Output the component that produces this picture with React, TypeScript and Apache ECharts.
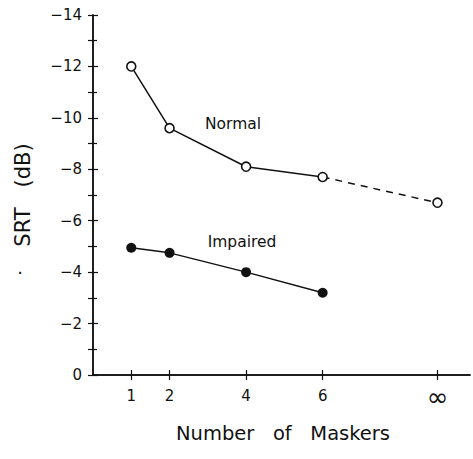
import React, { useEffect, useRef } from "react";
import * as echarts from "echarts";

const maskers = [1, 2, 4, 6];
const infinityPos = 9;
const xTickValues = [1, 2, 4, 6, 9];
const xTickLabels = ["1", "2", "4", "6", "∞"];
const normalSRT = [-12.0, -9.6, -8.1, -7.7];
const normalInfSRT = -6.7;
const impairedSRT = [-4.95, -4.75, -4.0, -3.2];

const FONT = "DejaVu Sans";
const INK = "#111";

export default function App() {
  const ref = useRef<HTMLDivElement>(null);
  useEffect(() => {
    if (!ref.current) return;
    const chart = echarts.init(ref.current, null, { renderer: "svg" });
    const normalData = maskers.map((m, i) => [m, normalSRT[i]]);
    const impairedData = maskers.map((m, i) => [m, impairedSRT[i]]);
    const dashData = [
      { value: [maskers[maskers.length - 1], normalSRT[normalSRT.length - 1]], symbol: "none" },
      { value: [infinityPos, normalInfSRT] },
    ];
    const labelMap: Record<number, string> = {};
    xTickValues.forEach((v, i) => (labelMap[v] = xTickLabels[i]));

    chart.setOption({
      animation: false,
      backgroundColor: "#fff",
      grid: { left: 93, right: 3, top: 15, bottom: 84 },
      xAxis: [
        {
          type: "value",
          position: "bottom",
          min: 0,
          max: 9.85,
          splitLine: { show: false },
          axisLine: { show: true, lineStyle: { color: INK, width: 1.5 } },
          axisTick: { show: true, inside: true, length: 5, customValues: xTickValues, lineStyle: { color: INK, width: 1.2 } },
          axisLabel: {
            show: true,
            customValues: xTickValues,
            formatter: (v: number) => {
              const t = labelMap[v] ?? "";
              return t === "∞" ? "{inf|∞}" : t;
            },
            rich: { inf: { fontFamily: FONT, fontSize: 26, color: INK, lineHeight: 18 } },
            fontFamily: FONT,
            fontSize: 15,
            color: INK,
            margin: 13,
          },
        },
        {
          type: "value",
          position: "top",
          min: 0,
          max: 9.85,
          splitLine: { show: false },
          axisLine: { show: true, lineStyle: { color: INK, width: 1.5 } },
          axisTick: { show: true, inside: true, length: 5, customValues: xTickValues, lineStyle: { color: INK, width: 1.2 } },
          axisLabel: { show: false },
        },
      ],
      yAxis: [
        {
          type: "value",
          position: "left",
          inverse: true,
          min: -14,
          max: 0,
          interval: 2,
          splitLine: { show: false },
          axisLine: { show: true, lineStyle: { color: INK, width: 1.5 } },
          axisTick: { show: true, inside: true, length: 5, lineStyle: { color: INK, width: 1.2 } },
          minorTick: { show: true, splitNumber: 2, length: 4, lineStyle: { color: INK, width: 1.2 } },
          axisLabel: {
            fontFamily: FONT,
            fontSize: 15,
            color: INK,
            margin: 11,
            formatter: (v: number) => (v === 0 ? "0" : "−" + Math.abs(v)),
          },
          name: "SRT   (dB)",
          nameLocation: "middle",
          nameRotate: 90,
          nameGap: 60,
          nameTextStyle: { fontFamily: FONT, fontSize: 21, color: INK },
        },
        {
          type: "value",
          position: "right",
          inverse: true,
          min: -14,
          max: 0,
          interval: 1,
          splitLine: { show: false },
          axisLine: { show: true, lineStyle: { color: INK, width: 1.5 } },
          axisTick: { show: true, inside: true, length: 5, lineStyle: { color: INK, width: 1.2 } },
          axisLabel: { show: false },
        },
      ],
      graphic: [
        {
          type: "text",
          left: 176,
          top: 423,
          style: { text: "Number   of   Maskers", fontFamily: FONT, fontSize: 19.5, fill: INK },
        },
        {
          type: "text",
          x: 20,
          y: 272,
          style: { text: "·", fontFamily: FONT, fontSize: 18, fill: INK, align: "center", verticalAlign: "middle" },
        },
        {
          type: "text",
          x: 233,
          y: 124,
          style: { text: "Normal", fontFamily: FONT, fontSize: 15.5, fill: INK, align: "center", verticalAlign: "middle" },
        },
        {
          type: "text",
          x: 242,
          y: 242,
          style: { text: "Impaired", fontFamily: FONT, fontSize: 15.5, fill: INK, align: "center", verticalAlign: "middle" },
        },
      ],
      series: [
        {
          type: "line",
          data: normalData,
          symbol: "circle",
          symbolSize: 9,
          lineStyle: { color: INK, width: 1.5 },
          itemStyle: { color: "#fff", borderColor: INK, borderWidth: 1.6 },
          z: 3,
        },
        {
          type: "line",
          data: dashData,
          symbol: "circle",
          symbolSize: 9,
          lineStyle: { color: INK, width: 1.5, type: [7, 6] },
          itemStyle: { color: "#fff", borderColor: INK, borderWidth: 1.6 },
          z: 2,
        },
        {
          type: "line",
          data: impairedData,
          symbol: "circle",
          symbolSize: 10,
          lineStyle: { color: INK, width: 1.5 },
          itemStyle: { color: INK },
          z: 3,
        },
      ],
    });
    return () => chart.dispose();
  }, []);
  return <div ref={ref} style={{ width: 473, height: 459, position: "absolute", left: 0, top: 0 }} />;
}
